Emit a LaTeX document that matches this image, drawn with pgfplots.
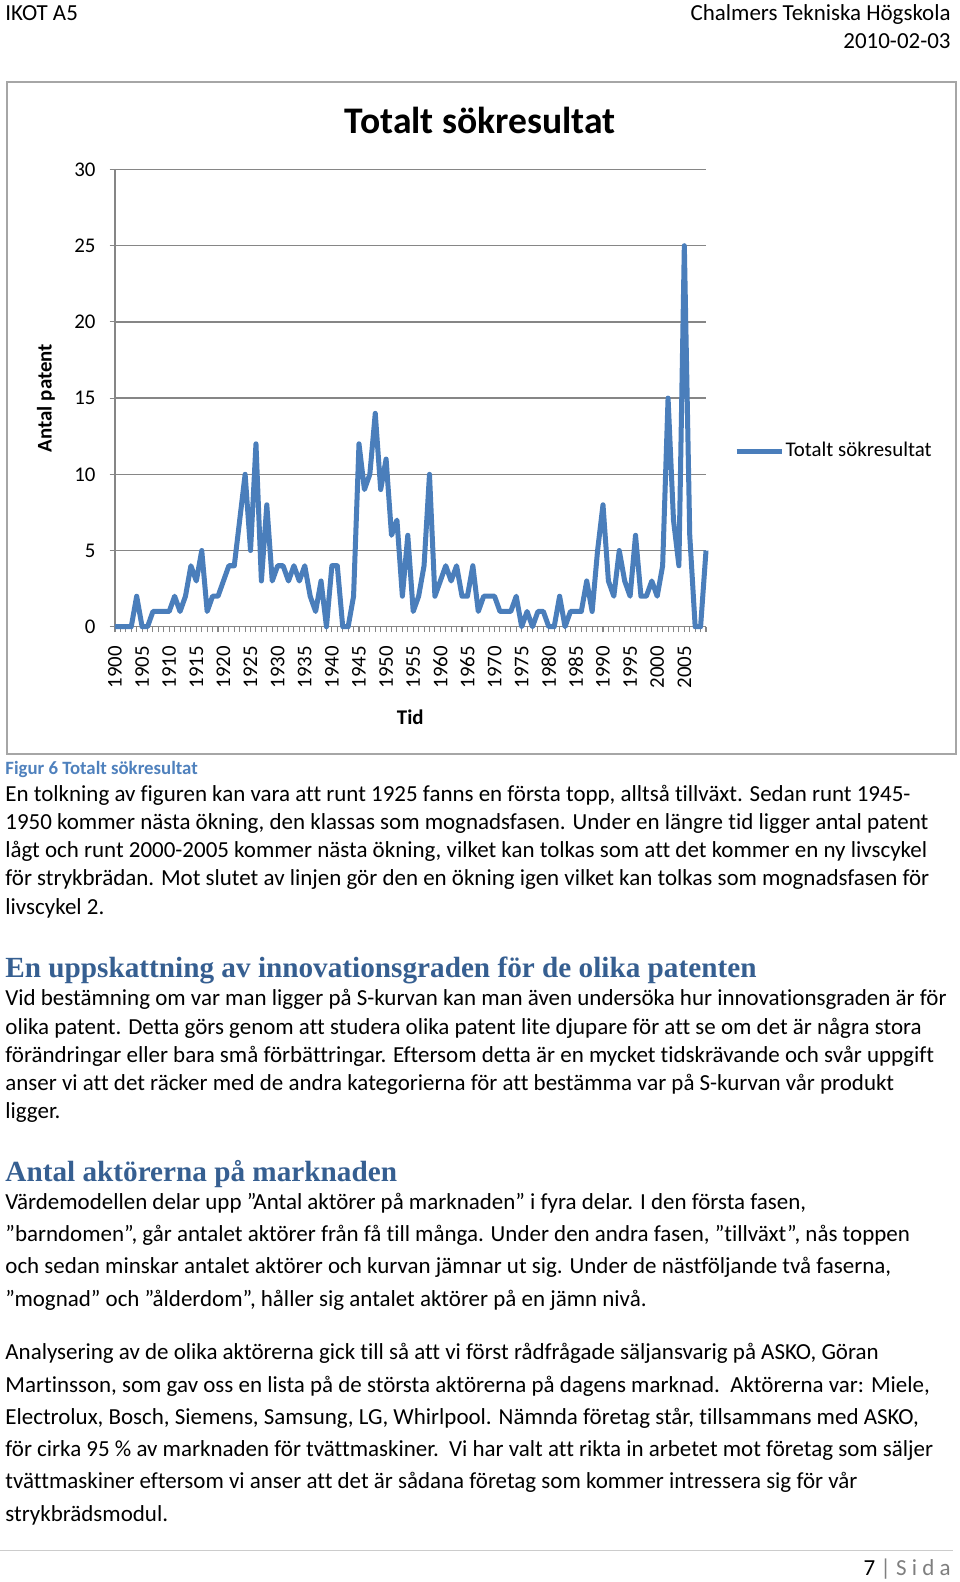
\documentclass[border=0pt]{standalone}
\usepackage{pgfplots}
\pgfplotsset{compat=1.18}
\usepackage{fontspec}
\setmainfont{Carlito}[Ligatures={NoCommon}]
\newfontfamily\headfont{Liberation Serif}
\definecolor{seriesblue}{HTML}{4A7EBB}
\definecolor{axisgray}{HTML}{868686}
\definecolor{headblue}{HTML}{365F91}
\definecolor{capblue}{HTML}{4F81BD}
\definecolor{framegray}{HTML}{A6A6A6}
\definecolor{footgray}{HTML}{7F7F7F}

\pgfplotstableread{
year n
1900 0
1901 0
1902 0
1903 0
1904 2
1905 0
1906 0
1907 1
1908 1
1909 1
1910 1
1911 2
1912 1
1913 2
1914 4
1915 3
1916 5
1917 1
1918 2
1919 2
1920 3
1921 4
1922 4
1923 7
1924 10
1925 5
1926 12
1927 3
1928 8
1929 3
1930 4
1931 4
1932 3
1933 4
1934 3
1935 4
1936 2
1937 1
1938 3
1939 0
1940 4
1941 4
1942 0
1943 0
1944 2
1945 12
1946 9
1947 10
1948 14
1949 9
1950 11
1951 6
1952 7
1953 2
1954 6
1955 1
1956 2
1957 4
1958 10
1959 2
1960 3
1961 4
1962 3
1963 4
1964 2
1965 2
1966 4
1967 1
1968 2
1969 2
1970 2
1971 1
1972 1
1973 1
1974 2
1975 0
1976 1
1977 0
1978 1
1979 1
1980 0
1981 0
1982 2
1983 0
1984 1
1985 1
1986 1
1987 3
1988 1
1989 5
1990 8
1991 3
1992 2
1993 5
1994 3
1995 2
1996 6
1997 2
1998 2
1999 3
2000 2
2001 4
2002 15
2003 7
2004 4
2005 25
2006 6
2007 0
2008 0
2009 5
}\sokdata

\begin{document}
\begin{tikzpicture}
\fill[white] (0pt,0pt) rectangle (459.84pt,-757.78pt);
\useasboundingbox (0pt,0pt) rectangle (459.84pt,-757.78pt);
\begin{scope}[x=0.479pt,y=-0.479pt,
  body/.style={anchor=base west, inner sep=0pt, font=\fontsize{11}{13.4}\selectfont},
  head/.style={anchor=base west, inner sep=0pt, text=headblue, font=\headfont\bfseries\fontsize{14}{17}\selectfont}]
\draw[framegray, line width=0.9pt] (7,82) rectangle (956,754);
% page header
\node[body] at (5,20) {IKOT A5};
\node[body, anchor=base east] at (951,20) {Chalmers Tekniska Högskola};
\node[body, anchor=base east] at (951,48) {2010-02-03};
% caption
\node[anchor=base west, inner sep=0pt, text=capblue, font=\bfseries\fontsize{9}{11}\selectfont] at (5,774) {Figur 6 Totalt sökresultat};
\node[body] at (5,801) {En tolkning av figuren kan vara att runt 1925 fanns en första topp, alltså tillväxt. Sedan runt 1945-};
\node[body] at (5,829) {1950 kommer nästa ökning, den klassas som mognadsfasen. Under en längre tid ligger antal patent};
\node[body] at (5,857) {lågt och runt 2000-2005 kommer nästa ökning, vilket kan tolkas som att det kommer en ny livscykel};
\node[body] at (5,885) {för strykbrädan. Mot slutet av linjen gör den en ökning igen vilket kan tolkas som mognadsfasen för};
\node[body] at (5,914) {livscykel 2.};
\node[head] at (5,977) {En uppskattning av innovationsgraden för de olika patenten};
\node[body] at (5,1005) {Vid bestämning om var man ligger på S-kurvan kan man även undersöka hur innovationsgraden är för};
\node[body] at (5,1034) {olika patent. Detta görs genom att studera olika patent lite djupare för att se om det är några stora};
\node[body] at (5,1062) {förändringar eller bara små förbättringar. Eftersom detta är en mycket tidskrävande och svår uppgift};
\node[body] at (5,1090) {anser vi att det räcker med de andra kategorierna för att bestämma var på S-kurvan vår produkt};
\node[body] at (5,1118) {ligger.};
\node[head] at (5,1181) {Antal aktörerna på marknaden};
\node[body] at (5,1209) {Värdemodellen delar upp ”Antal aktörer på marknaden” i fyra delar. I den första fasen,};
\node[body] at (5,1241) {”barndomen”, går antalet aktörer från få till många. Under den andra fasen, ”tillväxt”, nås toppen};
\node[body] at (5,1273) {och sedan minskar antalet aktörer och kurvan jämnar ut sig. Under de nästföljande två faserna,};
\node[body] at (5,1306) {”mognad” och ”ålderdom”, håller sig antalet aktörer på en jämn nivå.};
\node[body] at (5,1359) {Analysering av de olika aktörerna gick till så att vi först rådfrågade säljansvarig på ASKO, Göran};
\node[body] at (5,1392) {Martinsson, som gav oss en lista på de största aktörerna på dagens marknad.\ \ Aktörerna var: Miele,};
\node[body] at (5,1424) {Electrolux, Bosch, Siemens, Samsung, LG, Whirlpool. Nämnda företag står, tillsammans med ASKO,};
\node[body] at (5,1456) {för cirka 95 \% av marknaden för tvättmaskiner.\ \ Vi har valt att rikta in arbetet mot företag som säljer};
\node[body] at (5,1488) {tvättmaskiner eftersom vi anser att det är sådana företag som kommer intressera sig för vår};
\node[body] at (5,1521) {strykbrädsmodul.};
% footer
\draw[gray!40, line width=0.5pt] (0,1550) -- (953,1550);
\node[body, anchor=base east] at (951,1575) {7 {\color{footgray}| S i d a}};
\end{scope}

\begin{axis}[
  at={(55.08pt,-300.19pt)}, anchor=south west,
  width=283.1pt, height=219.0pt, scale only axis,
  xmin=1900, xmax=2009, ymin=0, ymax=30,
  axis lines=left,
  axis line style={-, draw=axisgray, line width=0.6pt},
  clip=false,
  ytick={0,5,...,30},
  xtick={1900,1905,...,2005},
  minor xtick={1900,1901,...,2009},
  ymajorgrids,
  grid style={axisgray, line width=0.6pt},
  tick align=outside,
  major tick length=2.6pt, minor tick length=2.6pt,
  tick style={axisgray, line width=0.5pt},
  /pgf/number format/assume math mode=true,
  /pgf/number format/1000 sep={},
  tick label style={font=\fontsize{10}{12}\selectfont, text=black},
  xticklabel style={rotate=90, anchor=east},
  xticklabel shift=3.2pt, yticklabel shift=3.2pt,
  title={Totalt sökresultat},
  title style={at={(axis description cs:0.618,1.080)}, anchor=center, font=\bfseries\fontsize{18}{22}\selectfont},
  xlabel={Tid},
  xlabel style={at={(axis description cs:0.4996,-0.1975)}, anchor=center, font=\bfseries\fontsize{10}{12}\selectfont},
  ylabel={Antal patent},
  ylabel style={at={(axis description cs:-0.1168,0.5)}, anchor=center, font=\bfseries\fontsize{10}{12}\selectfont},
  legend style={at={(axis description cs:1.047,0.384)}, anchor=west, draw=none, fill=none, inner sep=0pt, nodes={inner sep=0.6pt}, font=\fontsize{10}{12}\selectfont},
  legend image code/.code={\draw[#1] (0pt,0pt) -- (21.6pt,0pt);},
]
\addplot[seriesblue, line width=2.4pt, line join=round] table[x=year, y=n] {\sokdata};
\addlegendentry{Totalt sökresultat}
\end{axis}
\end{tikzpicture}
\end{document}
